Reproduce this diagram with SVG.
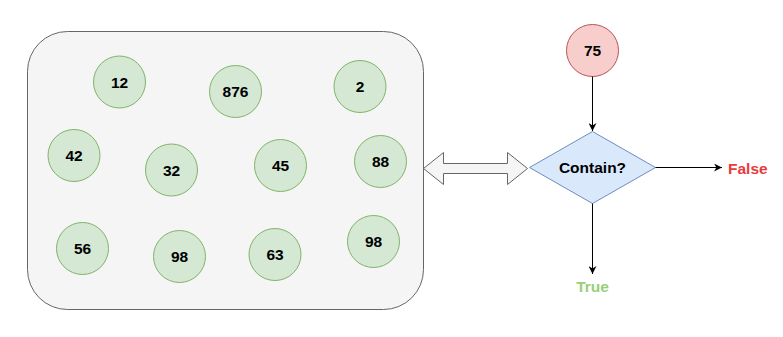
<svg xmlns="http://www.w3.org/2000/svg" width="783" height="337" viewBox="0 0 783 337">
<style>
.g circle{fill:#d5e8d4;stroke:#82b366;stroke-width:1}
.t{font-family:"Liberation Sans",Arial,sans-serif;font-size:15.5px;font-weight:bold;text-anchor:middle;fill:#000}
.c{stroke:#000;stroke-width:1;fill:none}
</style>
<defs>
<marker id="ah" viewBox="0 0 10 10" refX="10" refY="5" markerWidth="8" markerHeight="8" markerUnits="userSpaceOnUse" orient="auto">
<path d="M0,0 L10,5 L0,10 L3,5 Z" fill="#000"/>
</marker>
</defs>
<rect width="783" height="337" fill="#fff"/>
<g id="container"><rect x="27.5" y="31.5" width="396" height="278" rx="40" ry="40" fill="#f5f5f5" stroke="#666666"/></g>
<g id="n12" class="g"><circle cx="119.5" cy="82" r="26"/><text class="t" x="119.5" y="87.5">12</text></g>
<g id="n876" class="g"><circle cx="235.5" cy="91.5" r="26"/><text class="t" x="235.5" y="97">876</text></g>
<g id="n2" class="g"><circle cx="360" cy="86.5" r="26"/><text class="t" x="360" y="92">2</text></g>
<g id="n42" class="g"><circle cx="74" cy="155.5" r="26"/><text class="t" x="74" y="161">42</text></g>
<g id="n32" class="g"><circle cx="171.5" cy="170" r="26"/><text class="t" x="171.5" y="175.5">32</text></g>
<g id="n45" class="g"><circle cx="280.5" cy="165.5" r="26"/><text class="t" x="280.5" y="171">45</text></g>
<g id="n88" class="g"><circle cx="380.5" cy="161.5" r="26"/><text class="t" x="380.5" y="167">88</text></g>
<g id="n56" class="g"><circle cx="82.5" cy="248.5" r="26"/><text class="t" x="82.5" y="254">56</text></g>
<g id="n98a" class="g"><circle cx="179.5" cy="256.5" r="26"/><text class="t" x="179.5" y="262">98</text></g>
<g id="n63" class="g"><circle cx="275" cy="254.5" r="26"/><text class="t" x="275" y="260">63</text></g>
<g id="n98b" class="g"><circle cx="373.5" cy="241.5" r="26"/><text class="t" x="373.5" y="247">98</text></g>
<g id="n75"><circle cx="592.5" cy="50.5" r="26" fill="#f8cecc" stroke="#b85450"/><text class="t" x="592.5" y="56">75</text></g>
<g id="contain"><polygon points="592.5,131.5 655.5,167.5 592.5,203.5 529.5,167.5" fill="#dae8fc" stroke="#6c8ebf"/><text class="t" x="592.5" y="173">Contain?</text></g>
<g id="dblarrow"><polygon points="423.5,168.5 443.5,152.5 443.5,163.5 507.5,163.5 507.5,152.5 527.5,168.5 507.5,184.5 507.5,173.5 443.5,173.5 443.5,184.5" fill="#f5f5f5" stroke="#666666"/></g>
<g id="false"><text class="t" x="728" y="173.5" style="text-anchor:start;fill:#ea3b3b">False</text></g>
<g id="true"><text class="t" x="592.5" y="291.5" style="fill:#97d077">True</text></g>
<g id="connectors">
<line class="c" x1="592.5" y1="76.5" x2="592.5" y2="131" marker-end="url(#ah)"/>
<line class="c" x1="655.5" y1="167.5" x2="722" y2="167.5" marker-end="url(#ah)"/>
<line class="c" x1="592.5" y1="203.5" x2="592.5" y2="274" marker-end="url(#ah)"/>
</g>
</svg>
